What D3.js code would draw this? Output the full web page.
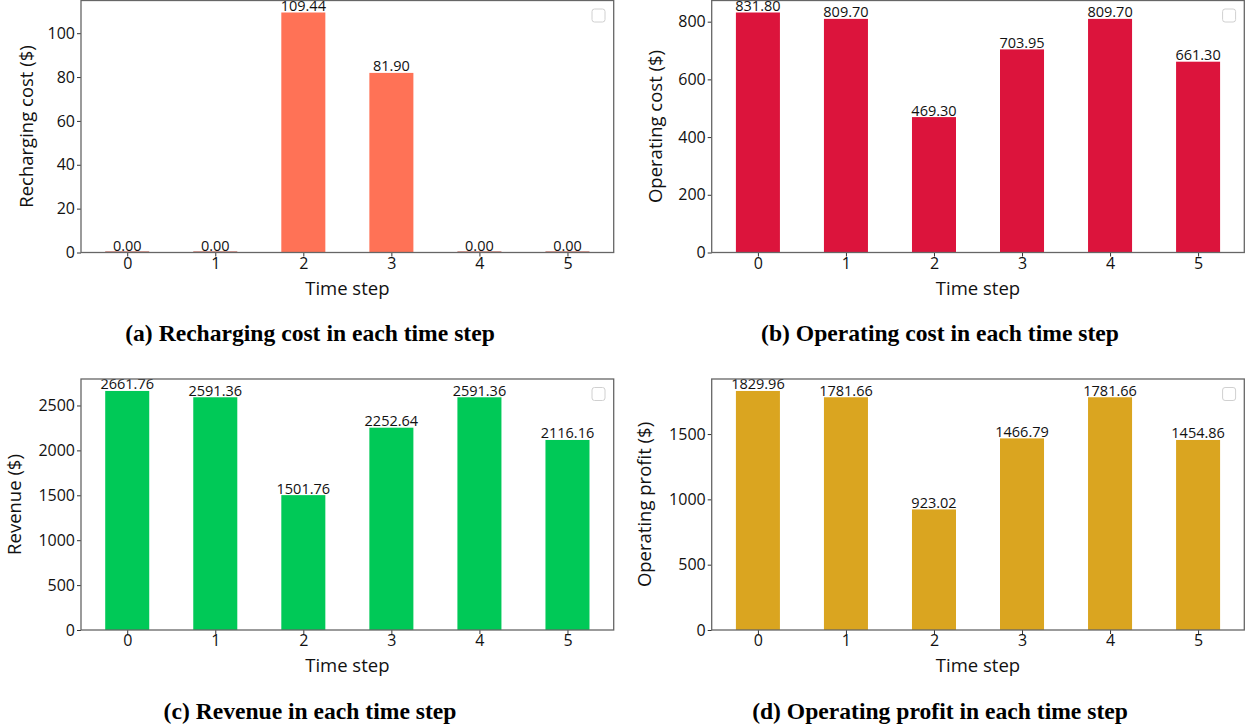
<!DOCTYPE html>
<html>
<head>
<meta charset="utf-8">
<script src="https://cdn.jsdelivr.net/npm/d3@7"></script>
<style>
  html, body { margin: 0; padding: 0; background: #fff; }
  svg { display: block; }
  .tick text { font-family: "Open Sans", "DejaVu Sans", sans-serif; font-size: 16px; fill: #111; }
  .axis-label { font-family: "Open Sans", "DejaVu Sans", sans-serif; font-size: 18.5px; fill: #111; }
  .bar-label { font-family: "Open Sans", "DejaVu Sans", sans-serif; font-size: 14.5px; fill: #111; }
  .caption { font-family: "Liberation Serif", "Times New Roman", serif; font-weight: bold; font-size: 23.6px; fill: #000; }
</style>
</head>
<body>
<svg id="chart" width="1248" height="727"></svg>
<script>
// Time steps shared by all four panels
const timeSteps = [0, 1, 2, 3, 4, 5];

// Per-step values ($)
const rechargingCost = [0.00, 0.00, 109.44, 81.90, 0.00, 0.00];
const operatingCost  = [831.80, 809.70, 469.30, 703.95, 809.70, 661.30];
const revenue        = [2661.76, 2591.36, 1501.76, 2252.64, 2591.36, 2116.16];
const operatingProfit = [1829.96, 1781.66, 923.02, 1466.79, 1781.66, 1454.86];

// Y-axis tick values per panel
const rechargingTicks = [0, 20, 40, 60, 80, 100];
const operatingCostTicks = [0, 200, 400, 600, 800];
const revenueTicks = [0, 500, 1000, 1500, 2000, 2500];
const profitTicks = [0, 500, 1000, 1500];

const panels = [
  { values: rechargingCost, ticks: rechargingTicks, color: "#FF7256", zeroColor: "#a8382a",
    ylabel: "Recharging cost ($)", caption: "(a) Recharging cost in each time step",
    box: { left: 81, right: 613.7, top: 0.5, bottom: 252.5 }, ylabelGap: 48, capX: 310, capY: 333 },
  { values: operatingCost, ticks: operatingCostTicks, color: "#DC143C", zeroColor: "#8b0a22",
    ylabel: "Operating cost ($)", caption: "(b) Operating cost in each time step",
    box: { left: 711.7, right: 1244.3, top: 0.5, bottom: 252.5 }, ylabelGap: 50, capX: 940, capY: 333 },
  { values: revenue, ticks: revenueTicks, color: "#00C957", zeroColor: "#007a35",
    ylabel: "Revenue ($)", caption: "(c) Revenue in each time step",
    box: { left: 81, right: 613.7, top: 379, bottom: 630 }, ylabelGap: 60, capX: 310, capY: 711 },
  { values: operatingProfit, ticks: profitTicks, color: "#DAA520", zeroColor: "#8a6510",
    ylabel: "Operating profit ($)", caption: "(d) Operating profit in each time step",
    box: { left: 711.7, right: 1244.3, top: 379, bottom: 630 }, ylabelGap: 61, capX: 940, capY: 711 }
];

const svg = d3.select("#chart");
const barWidth = 0.5;

panels.forEach(p => {
  const b = p.box;
  const g = svg.append("g");

  // Linear x so bar edges and the padded limits follow the data units
  const x = d3.scaleLinear()
    .domain([-barWidth / 2 - 0.275, timeSteps.length - 1 + barWidth / 2 + 0.275])
    .range([b.left, b.right]);
  const y = d3.scaleLinear()
    .domain([0, d3.max(p.values) * 1.05])
    .range([b.bottom, b.top]);

  // Bars
  g.selectAll("rect.bar")
    .data(p.values)
    .join("rect")
    .attr("class", "bar")
    .attr("x", (d, i) => x(timeSteps[i] - barWidth / 2))
    .attr("width", (d, i) => x(timeSteps[i] + barWidth / 2) - x(timeSteps[i] - barWidth / 2))
    .attr("y", d => y(d))
    .attr("height", d => y(0) - y(d))
    .attr("fill", p.color);

  // Zero-height bars still show their outline along the baseline
  g.selectAll("line.zero")
    .data(p.values.map((v, i) => ({ v, i })).filter(o => o.v === 0))
    .join("line")
    .attr("class", "zero")
    .attr("x1", o => x(timeSteps[o.i] - barWidth / 2))
    .attr("x2", o => x(timeSteps[o.i] + barWidth / 2))
    .attr("y1", o => y(o.v) - 0.5)
    .attr("y2", o => y(o.v) - 0.5)
    .attr("stroke", p.zeroColor)
    .attr("stroke-width", 1);

  // Value labels on top of each bar
  g.selectAll("text.bar-label")
    .data(p.values)
    .join("text")
    .attr("class", "bar-label")
    .attr("x", (d, i) => x(timeSteps[i]))
    .attr("y", d => y(d) - 1.5)
    .attr("text-anchor", "middle")
    .text(d => d.toFixed(2));

  // Axes
  const yAxis = d3.axisLeft(y).tickValues(p.ticks).tickSize(4).tickPadding(2).tickFormat(d3.format("d"));
  const xAxis = d3.axisBottom(x).tickValues(timeSteps).tickSize(4).tickPadding(1).tickFormat(d3.format("d"));

  const ya = g.append("g").attr("transform", `translate(${b.left},0)`).call(yAxis);
  const xa = g.append("g").attr("transform", `translate(0,${b.bottom})`).call(xAxis);
  [ya, xa].forEach(a => {
    a.select(".domain").remove();
    a.selectAll(".tick line").attr("stroke", "#333").attr("stroke-width", 1);
  });

  // Frame around the plotting area
  g.append("rect")
    .attr("x", b.left).attr("y", b.top)
    .attr("width", b.right - b.left).attr("height", b.bottom - b.top)
    .attr("fill", "none").attr("stroke", "#666").attr("stroke-width", 1.3);

  // Empty legend box in the upper-right corner
  g.append("rect")
    .attr("x", b.right - 8.7 - 13).attr("y", b.top + 8.5)
    .attr("width", 13).attr("height", 13).attr("rx", 2.5)
    .attr("fill", "#fff").attr("stroke", "#d0d0d0").attr("stroke-width", 1);

  // Axis titles
  g.append("text")
    .attr("class", "axis-label")
    .attr("x", (b.left + b.right) / 2)
    .attr("y", b.bottom + 42)
    .attr("text-anchor", "middle")
    .text("Time step");

  g.append("text")
    .attr("class", "axis-label")
    .attr("transform", `translate(${b.left - p.ylabelGap},${(b.top + b.bottom) / 2}) rotate(-90)`)
    .attr("text-anchor", "middle")
    .text(p.ylabel);

  // Sub-figure caption
  g.append("text")
    .attr("class", "caption")
    .attr("x", p.capX)
    .attr("y", p.capY)
    .attr("dy", "0.35em")
    .attr("text-anchor", "middle")
    .text(p.caption);
});
</script>
</body>
</html>
